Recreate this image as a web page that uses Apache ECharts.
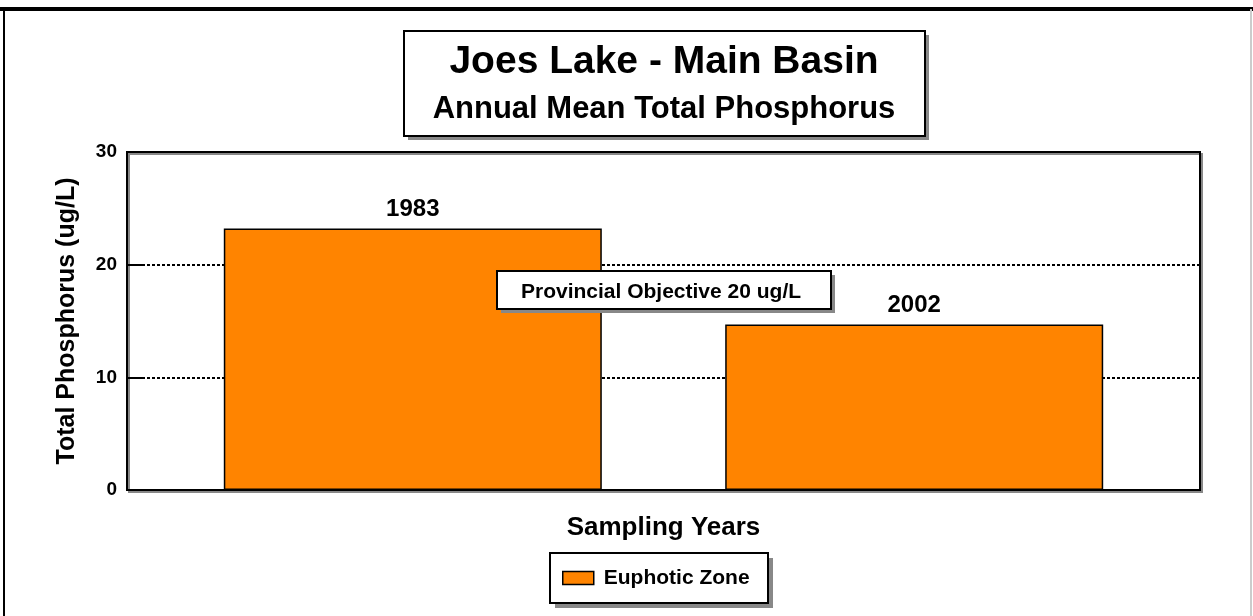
<!DOCTYPE html>
<html>
<head>
<meta charset="utf-8">
<title>Joes Lake - Main Basin</title>
<script src="https://cdn.jsdelivr.net/npm/echarts@6/dist/echarts.min.js"></script>
<style>
html, body { margin: 0; padding: 0; background: #fff; }
#chart { width: 1253px; height: 616px; }
</style>
</head>
<body>
<div id="chart"></div>
<script>
// data
var years = ['1983', '2002'];
var phosphorus = [23.2, 14.7];
var yTicks = [0, 10, 20, 30];
var objective = 20;

var font = '"Liberation Sans", Arial, sans-serif';
var chart = echarts.init(document.getElementById('chart'));

var barData = phosphorus.map(function (v, i) { return [i + 1, v]; });

function boxWithShadow(x, y, w, h, off) {
    return [
        { type: 'rect', shape: { x: x + off, y: y + off, width: w, height: h },
          style: { fill: '#888' }, z: 10 },
        { type: 'rect', shape: { x: x, y: y, width: w, height: h },
          style: { fill: '#fff', stroke: '#000', lineWidth: 2 }, z: 11 }
    ];
}

var option = {
    animation: false,
    backgroundColor: '#fff',
    textStyle: { fontFamily: font },
    grid: {
        left: 127,
        right: 53,
        top: 152,
        bottom: 126,
        show: true,
        borderColor: '#000',
        borderWidth: 2,
        shadowColor: '#888',
        shadowOffsetX: 2,
        shadowOffsetY: 2
    },
    legend: {
        data: [{ name: 'Euphotic Zone', icon: 'rect' }],
        left: 562,
        top: 567,
        padding: 0,
        itemWidth: 31,
        itemHeight: 13,
        itemGap: 0,
        z: 20,
        itemStyle: { borderColor: '#000', borderWidth: 1.5 },
        textStyle: { fontFamily: font, fontSize: 21, lineHeight: 22, fontWeight: 'bold', color: '#000', padding: [0, 0, 0, 5] }
    },
    xAxis: {
        type: 'value',
        min: 0.43,
        max: 2.57,
        name: 'Sampling Years',
        nameLocation: 'middle',
        nameGap: 25,
        nameTextStyle: { fontFamily: font, fontSize: 26, fontWeight: 'bold', color: '#000' },
        axisLine: { show: true, lineStyle: { color: '#000', width: 2 } },
        axisTick: { show: false },
        axisLabel: { show: false },
        splitLine: { show: false }
    },
    yAxis: {
        type: 'value',
        min: yTicks[0],
        max: yTicks[yTicks.length - 1],
        interval: 10,
        name: 'Total Phosphorus (ug/L)',
        nameLocation: 'middle',
        nameGap: 47,
        nameTextStyle: { fontFamily: font, fontSize: 25, fontWeight: 'bold', color: '#000' },
        axisLine: { show: true, lineStyle: { color: '#000', width: 2 } },
        axisTick: { show: true, inside: true, length: 16, lineStyle: { color: '#000', width: 2 } },
        axisLabel: { fontFamily: font, fontSize: 19, fontWeight: 'bold', color: '#000', margin: 10 },
        splitLine: { show: true, lineStyle: { color: '#000', width: 2, type: [3, 2] } }
    },
    series: [{
        name: 'Euphotic Zone',
        type: 'bar',
        data: barData,
        barWidth: 378,
        itemStyle: {
            color: '#ff8400',
            borderColor: '#000',
            borderWidth: 1.5
        },
        label: {
            show: true,
            position: 'top',
            distance: 7,
            formatter: function (p) { return years[p.dataIndex]; },
            fontFamily: font,
            fontSize: 24,
            fontWeight: 'bold',
            color: '#000'
        }
    }],
    graphic: [
        // outer frame: thick top, black left, light grey right
        { type: 'rect', shape: { x: 0, y: 7, width: 1253, height: 4 },
          style: { fill: '#000' }, z: 0 },
        { type: 'rect', shape: { x: 3, y: 9, width: 2, height: 607 },
          style: { fill: '#000' }, z: 0 },
        { type: 'rect', shape: { x: 1250, y: 9, width: 2, height: 607 },
          style: { fill: '#ccc' }, z: 0 },
        // title
        { type: 'text', x: 664, y: 62, z: 12,
          style: { text: 'Joes Lake - Main Basin', font: 'bold 39px ' + font,
                   fill: '#000', align: 'center', verticalAlign: 'middle' } },
        { type: 'text', x: 664, y: 109, z: 12,
          style: { text: 'Annual Mean Total Phosphorus', font: 'bold 31px ' + font,
                   fill: '#000', align: 'center', verticalAlign: 'middle' } },
        // objective label
        { type: 'text', x: 661, y: 292, z: 12,
          style: { text: 'Provincial Objective ' + objective + ' ug/L', font: 'bold 21px ' + font,
                   fill: '#000', align: 'center', verticalAlign: 'middle' } }
    ]
    .concat(boxWithShadow(404, 31, 521, 105, 4))
    .concat(boxWithShadow(497, 271, 334, 38, 4))
    .concat(boxWithShadow(550, 553, 218, 50, 5))
};

chart.setOption(option);
</script>
</body>
</html>
